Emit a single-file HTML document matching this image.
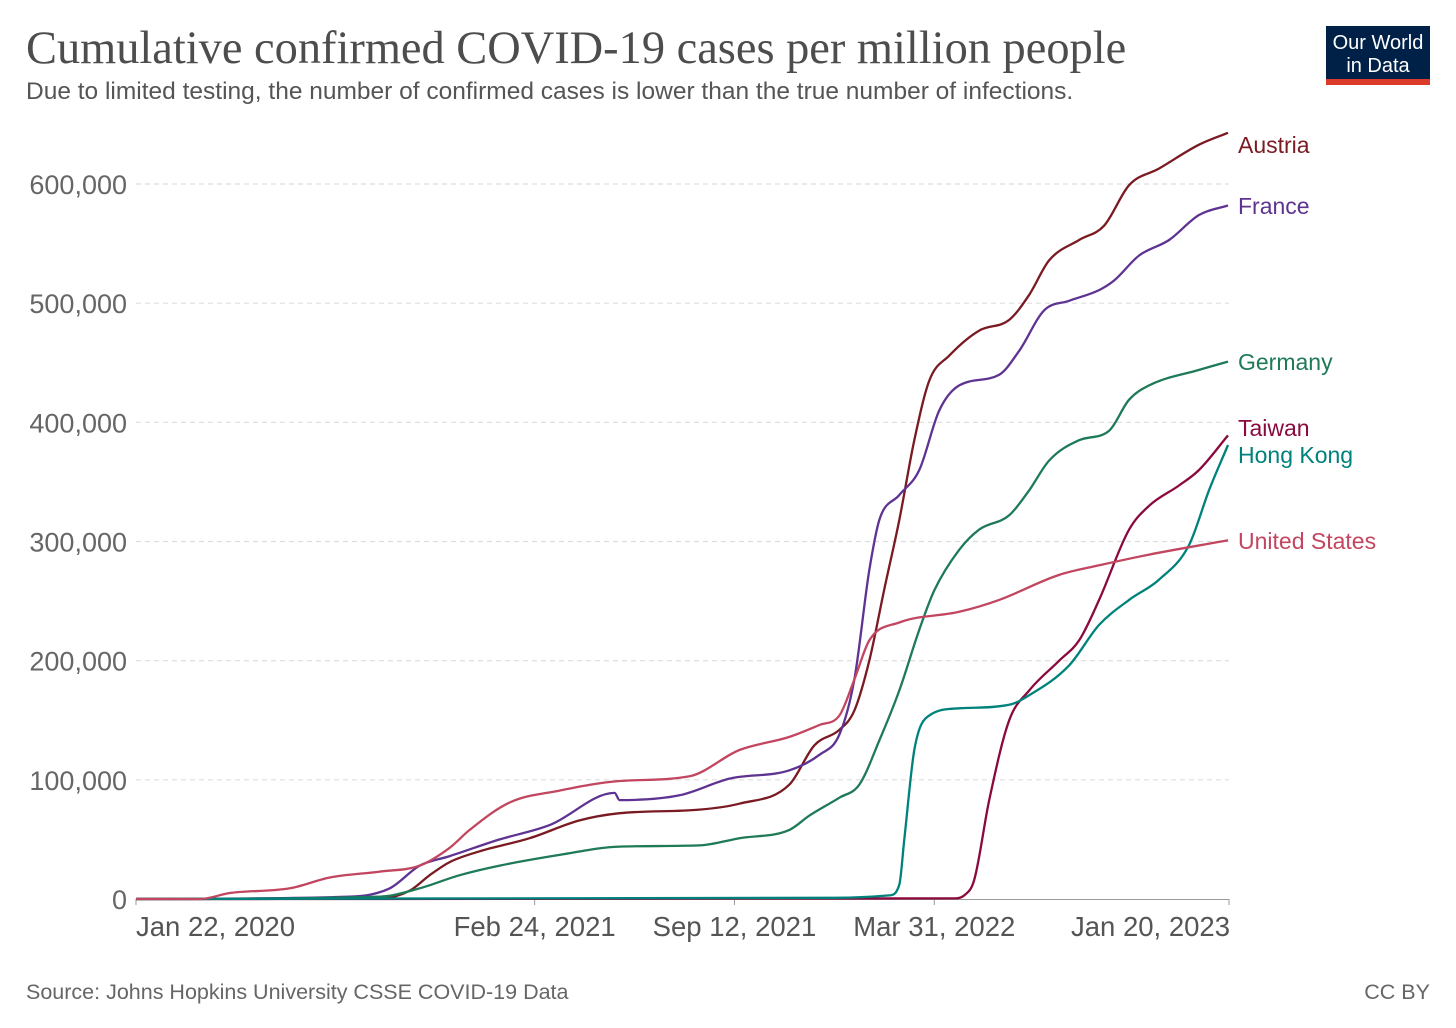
<!DOCTYPE html>
<html><head><meta charset="utf-8"><style>
body{margin:0;background:#fff;}
svg{display:block;font-family:"Liberation Sans",sans-serif;}
</style></head><body>
<svg id="chart" width="1456" height="1028" viewBox="0 0 1456 1028">
<text x="26" y="63" font-family="Liberation Serif,serif" font-size="46.4" fill="#4d4d4d">Cumulative confirmed COVID-19 cases per million people</text>
<text x="26" y="99" font-size="24.5" fill="#555">Due to limited testing, the number of confirmed cases is lower than the true number of infections.</text>
<g>
<rect x="1326" y="26" width="104" height="53" fill="#002147"/>
<rect x="1326" y="79" width="104" height="6" fill="#dc3a2b"/>
<text x="1378" y="49" font-size="20" fill="#fff" text-anchor="middle">Our World</text>
<text x="1378" y="72" font-size="20" fill="#fff" text-anchor="middle">in Data</text>
</g>
<g id="grid"></g>
<g id="yticks"></g>
<g id="xticks"></g>
<g id="lines"></g>
<g id="labels"></g>
<text x="26" y="999" font-size="21.5" fill="#666">Source: Johns Hopkins University CSSE COVID-19 Data</text>
<text x="1430" y="999" font-size="21.5" fill="#666" text-anchor="end">CC BY</text>
</svg>
<script>
const yTicks=[0,100000,200000,300000,400000,500000,600000];
const yTickLabels=["0","100,000","200,000","300,000","400,000","500,000","600,000"];
const xTickDays=[0,399,599,799,1094];
const xTickLabels=["Jan 22, 2020","Feb 24, 2021","Sep 12, 2021","Mar 31, 2022","Jan 20, 2023"];
const seriesNames=["Austria","France","Germany","Taiwan","Hong Kong","United States"];
const seriesColors=["#7a1a22","#5e3391","#1f7a57","#8a0a3e","#00827c","#c2465f"];
const austriaDays=[0,244,274,294,314,344,394,444,484,564,604,654,679,704,719,734,749,764,779,794,814,844,874,894,914,944,969,994,1024,1064,1093];
const austriaVals=[0,0.5,7,20,31,40,51,66,72,75,80,96,129,142,158,200,260,318,385,435,456,477,486,507,536,553,565,599,613,633,643];
const franceDays=[0,214,254,284,314,364,414,479,484,544,594,654,684,704,719,734,744,764,784,804,824,864,884,909,934,964,979,1004,1034,1064,1093];
const franceVals=[0,2,9,28,36,50,62,89,83,87,101,108,121,138,184,276,318,339,360,410,431,440,460,494,502,511,519,540,553,574,582];
const germanyDays=[0,244,284,324,364,424,484,564,604,654,674,704,724,744,764,784,799,824,844,874,894,914,944,974,994,1014,1064,1093];
const germanyVals=[0,2,9,20,28,37,44,45,51,58,70,85,96,133,175,226,259,293,310,322,343,368,385,393,419,431,444,451];
const taiwanDays=[0,820,829,839,854,874,894,924,944,964,994,1014,1044,1064,1093];
const taiwanVals=[0,0.5,3,16,83,150,175,200,217,251,310,330,347,360,389];
const hkDays=[0,700,754,764,769,779,794,824,874,894,934,964,994,1024,1054,1074,1093];
const hkVals=[0,1,3,12,50,125,154,160,163,171,196,230,251,268,297,343,381];
const usDays=[0,64,94,154,194,244,284,314,334,374,424,484,554,604,654,684,704,719,734,764,824,864,924,964,1014,1093];
const usVals=[0,0,5,9,18,23,28,43,58,81,91,99,103,125,136,146,154,184,217,232,241,251,272,280,289,301];
const allDays=[austriaDays,franceDays,germanyDays,taiwanDays,hkDays,usDays];
const allVals=[austriaVals,franceVals,germanyVals,taiwanVals,hkVals,usVals];
const labelY=[145,206,362,428,455,541];

const ns="http://www.w3.org/2000/svg";
const X=d=>136+d*(1229-136)/1094;
const Y=v=>899-v*(899-184)/600000;
function mk(t,a,p){const e=document.createElementNS(ns,t);for(const k in a)e.setAttribute(k,a[k]);p.appendChild(e);return e;}
function monoPath(xs,ys){
 const n=xs.length,d=[],m=[];
 for(let i=0;i<n-1;i++)d.push((ys[i+1]-ys[i])/(xs[i+1]-xs[i]));
 m[0]=d[0];m[n-1]=d[n-2];
 for(let i=1;i<n-1;i++){m[i]=(d[i-1]*d[i]<=0)?0:(d[i-1]+d[i])/2;}
 for(let i=0;i<n-1;i++){if(d[i]===0){m[i]=0;m[i+1]=0;}else{const a=m[i]/d[i],b=m[i+1]/d[i],s=a*a+b*b;if(s>9){const t=3/Math.sqrt(s);m[i]=t*a*d[i];m[i+1]=t*b*d[i];}}}
 let p='M'+xs[0].toFixed(1)+','+ys[0].toFixed(1);
 for(let i=0;i<n-1;i++){const h=(xs[i+1]-xs[i])/3;
 p+=' C'+(xs[i]+h).toFixed(1)+','+(ys[i]+m[i]*h).toFixed(1)+' '+(xs[i+1]-h).toFixed(1)+','+(ys[i+1]-m[i+1]*h).toFixed(1)+' '+xs[i+1].toFixed(1)+','+ys[i+1].toFixed(1);}
 return p;}
const grid=document.getElementById('grid'),yt=document.getElementById('yticks'),xt=document.getElementById('xticks'),lines=document.getElementById('lines'),labels=document.getElementById('labels');
yTicks.forEach((v,i)=>{
 if(v>0){const g=mk('line',{x1:136,x2:1229,y1:Y(v),y2:Y(v),stroke:'#ddd','stroke-dasharray':'5,4','stroke-width':1.2},grid);
 
 }
 const t=mk('text',{x:127,y:Y(v)+10,'font-size':27,fill:'#666','text-anchor':'end'},yt);
 t.textContent=yTickLabels[i];
 
 
});
const ax=mk('line',{x1:136,x2:1229,y1:899.5,y2:899.5,stroke:'#999','stroke-width':1},xt);


xTickDays.forEach((d,i)=>{
 const tk=mk('line',{x1:X(d),x2:X(d),y1:899,y2:905,stroke:'#999'},xt);
 
 
 const anchor=i==0?'start':(i==xTickDays.length-1?'end':'middle');
 const t=mk('text',{x:X(d)+(i==xTickDays.length-1?1:0),y:936,'font-size':27.5,fill:'#555','text-anchor':anchor},xt);
 t.textContent=xTickLabels[i];
 
 
});
seriesNames.forEach((n,s)=>{
 const xs=allDays[s].map(X),ys=allVals[s].map(v=>Y(v*1000));
 const pl=mk('path',{d:monoPath(xs,ys),fill:'none',stroke:seriesColors[s],'stroke-width':2.3,'stroke-linejoin':'round'},lines);
 
 
 const t=mk('text',{x:1238,y:labelY[s]+8,'font-size':23,fill:seriesColors[s]},labels);
 t.textContent=n;
 
 
});
</script>
</body></html>
